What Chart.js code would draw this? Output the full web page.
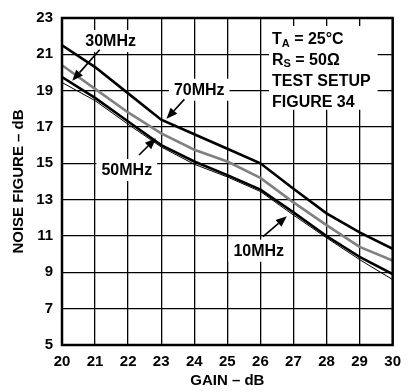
<!DOCTYPE html>
<html>
<head>
<meta charset="utf-8">
<script src="https://cdn.jsdelivr.net/npm/chart.js@4/dist/chart.umd.min.js"></script>
<style>
	body { margin: 0; background: #fff; }
	canvas { display: block; }
</style>
</head>
<body>
<canvas id="c" width="409" height="392"></canvas>
<script>
// gain in dB, noise figure in dB
const gain = [20, 21, 22, 23, 24, 25, 26, 27, 28, 29, 30];
const nf70 = [21.5, 20.3, 18.85, 17.4, 16.6, 15.8, 15.0, 13.6, 12.25, 11.2, 10.3];
const nf50 = [20.4, 19.1, 17.8, 16.65, 15.75, 15.1, 14.2, 12.85, 11.6, 10.4, 9.65];
const nf30 = [19.75, 18.6, 17.3, 16.0, 15.1, 14.35, 13.55, 12.3, 11.0, 9.85, 8.9];
const nf10 = [19.45, 18.45, 17.15, 15.9, 14.95, 14.25, 13.45, 12.15, 10.9, 9.7, 8.6];

// curve labels: text, label centre, arrow tail, arrow tip (data units)
const labels = [
	{text: '30MHz', at: [21.47, 21.73], from: [21.14, 21.25], to: [20.31, 19.54]},
	{text: '70MHz', at: [24.15, 19.05], from: [23.70, 18.52], to: [23.16, 17.45]},
	{text: '50MHz', at: [21.96, 14.63], from: [22.33, 15.46], to: [22.84, 16.38]},
	{text: '10MHz', at: [25.95, 10.19], from: [26.08, 10.96], to: [26.80, 12.09]},
];

// condition block (runs of [text, subscript?])
const conditions = [
	[['T'], ['A', true], [' = 25°C']],
	[['R'], ['S', true], [' = 50Ω']],
	[['TEST SETUP']],
	[['FIGURE 34']],
];
const condX = 26.35;
const condY = [21.84, 20.72, 19.54, 18.39];

const FONT = '"Liberation Sans", Arial, sans-serif';

function pts(ys) {
	return gain.map((g, i) => ({x: g, y: ys[i]}));
}

function runWidth(ctx, runs) {
	let w = 0;
	for (const [t, sub] of runs) {
		ctx.font = 'bold ' + (sub ? 11 : 16) + 'px ' + FONT;
		w += ctx.measureText(t).width;
	}
	return w;
}

function drawRuns(ctx, runs, x, y) {
	for (const [t, sub] of runs) {
		ctx.font = 'bold ' + (sub ? 11 : 16) + 'px ' + FONT;
		ctx.fillText(t, x, sub ? y + 4 : y);
		x += ctx.measureText(t).width;
	}
}

function arrow(ctx, x1, y1, x2, y2) {
	const a = Math.atan2(y2 - y1, x2 - x1);
	const len = 11, hw = 4.5;
	const bx = x2 - len * Math.cos(a), by = y2 - len * Math.sin(a);
	ctx.strokeStyle = '#000';
	ctx.lineWidth = 1.6;
	ctx.beginPath();
	ctx.moveTo(x1, y1);
	ctx.lineTo(bx, by);
	ctx.stroke();
	ctx.fillStyle = '#000';
	ctx.beginPath();
	ctx.moveTo(x2, y2);
	ctx.lineTo(bx + hw * Math.sin(a), by - hw * Math.cos(a));
	ctx.lineTo(bx - hw * Math.sin(a), by + hw * Math.cos(a));
	ctx.closePath();
	ctx.fill();
}

const notes = {
	id: 'notes',
	beforeDatasetsDraw(chart) {
		const ctx = chart.ctx;
		const xs = chart.scales.x, ys = chart.scales.y;
		ctx.save();
		ctx.textBaseline = 'middle';
		ctx.textAlign = 'left';

		// curve labels on white patches
		for (const l of labels) {
			ctx.font = 'bold 16px ' + FONT;
			const w = ctx.measureText(l.text).width;
			const cx = xs.getPixelForValue(l.at[0]);
			const cy = ys.getPixelForValue(l.at[1]);
			ctx.fillStyle = '#fff';
			ctx.fillRect(cx - w / 2 - 5, cy - 11, w + 10, 22);
			ctx.fillStyle = '#000';
			ctx.fillText(l.text, cx - w / 2, cy + 1);
		}

		// condition block
		const left = xs.getPixelForValue(condX);
		let maxW = 0;
		for (const r of conditions) maxW = Math.max(maxW, runWidth(ctx, r));
		const top = ys.getPixelForValue(condY[0]) - 13;
		const bottom = ys.getPixelForValue(condY[condY.length - 1]) + 8;
		ctx.fillStyle = '#fff';
		ctx.fillRect(left - 3, top, maxW + 10, bottom - top);
		ctx.fillStyle = '#000';
		conditions.forEach((r, i) => drawRuns(ctx, r, left, ys.getPixelForValue(condY[i]) + 1));
		ctx.restore();
	},
	afterDatasetsDraw(chart) {
		const ctx = chart.ctx;
		const xs = chart.scales.x, ys = chart.scales.y;
		ctx.save();
		for (const l of labels) {
			arrow(ctx,
				xs.getPixelForValue(l.from[0]), ys.getPixelForValue(l.from[1]),
				xs.getPixelForValue(l.to[0]), ys.getPixelForValue(l.to[1]));
		}
		const a = chart.chartArea;
		ctx.strokeStyle = '#000';
		ctx.lineWidth = 2.5;
		ctx.strokeRect(a.left, a.top, a.right - a.left, a.bottom - a.top);
		ctx.restore();
	}
};

new Chart(document.getElementById('c'), {
	type: 'line',
	data: {
		datasets: [
			{label: '10MHz', data: pts(nf10), borderColor: '#000', borderWidth: 1},
			{label: '30MHz', data: pts(nf30), borderColor: '#000', borderWidth: 2.6},
			{label: '50MHz', data: pts(nf50), borderColor: '#808080', borderWidth: 2.6},
			{label: '70MHz', data: pts(nf70), borderColor: '#000', borderWidth: 2.6},
		]
	},
	options: {
		responsive: false,
		animation: false,
		layout: {padding: {left: 0, right: 11, top: 9, bottom: 0}},
		elements: {
			point: {radius: 0},
			line: {tension: 0, fill: false}
		},
		plugins: {
			legend: {display: false},
			tooltip: {enabled: false}
		},
		scales: {
			x: {
				type: 'linear',
				min: 20,
				max: 30,
				afterFit: s => { s.height = 47; },
				grid: {color: '#000', lineWidth: 1.3, drawTicks: false},
				border: {display: false},
				ticks: {
					stepSize: 1,
					padding: 8,
					color: '#000',
					font: {family: FONT, size: 15, weight: 'bold'}
				},
				title: {
					display: true,
					text: 'GAIN – dB',
					color: '#000',
					padding: {top: 0, bottom: 2},
					font: {family: FONT, size: 15, weight: 'bold'}
				}
			},
			y: {
				min: 5,
				max: 23,
				afterFit: s => { s.width = 62; },
				grid: {color: '#000', lineWidth: 1.3, drawTicks: false},
				border: {display: false},
				ticks: {
					stepSize: 2,
					padding: 9,
					color: '#000',
					font: {family: FONT, size: 15, weight: 'bold'}
				},
				title: {
					display: true,
					text: 'NOISE FIGURE – dB',
					color: '#000',
					padding: {top: 10, bottom: 0},
					font: {family: FONT, size: 15, weight: 'bold'}
				}
			}
		}
	},
	plugins: [notes]
});
</script>
</body>
</html>
